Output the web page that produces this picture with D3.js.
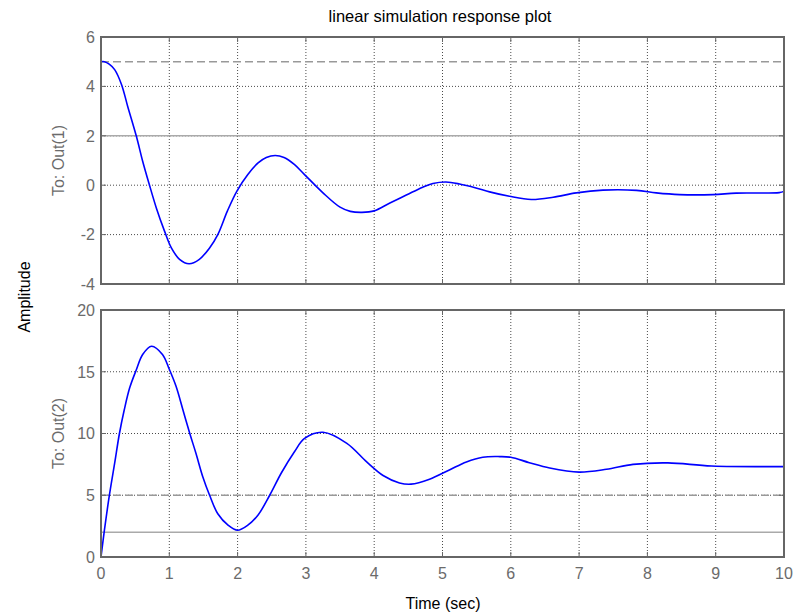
<!DOCTYPE html>
<html>
<head>
<meta charset="utf-8">
<script src="https://cdn.jsdelivr.net/npm/d3@7"></script>
<style>
  html, body { margin: 0; padding: 0; background: #fff; }
  svg { display: block; font-family: "Liberation Sans", Arial, sans-serif; }
</style>
</head>
<body>
<svg id="chart" width="807" height="616"></svg>
<script>
// Output 1 response samples (time in seconds, amplitude)
const time1 = [0, 0.05, 0.12, 0.2, 0.3, 0.39, 0.52, 0.61, 0.71, 0.81, 0.93, 1.03, 1.15, 1.29, 1.44, 1.59, 1.71, 1.85, 1.99, 2.15, 2.3, 2.42, 2.55, 2.68, 2.83, 2.98, 3.25, 3.5, 3.65, 3.82, 4.0, 4.23, 4.47, 4.71, 4.86, 5.05, 5.25, 5.49, 5.69, 5.98, 6.3, 6.62, 6.96, 7.35, 7.84, 8.13, 8.47, 8.96, 9.3, 9.93, 10];
const out1  = [5.0, 5.0, 4.9, 4.68, 4.08, 3.2, 1.96, 0.97, 0.0, -0.92, -1.86, -2.54, -3.0, -3.18, -3.0, -2.54, -2.0, -1.05, -0.24, 0.43, 0.9, 1.12, 1.2, 1.12, 0.84, 0.43, -0.31, -0.89, -1.06, -1.1, -1.04, -0.72, -0.4, -0.08, 0.07, 0.13, 0.05, -0.11, -0.27, -0.45, -0.58, -0.49, -0.31, -0.2, -0.21, -0.31, -0.38, -0.38, -0.32, -0.3, -0.25];

// Output 2 response samples
const time2 = [0, 0.05, 0.12, 0.2, 0.27, 0.34, 0.42, 0.52, 0.61, 0.74, 0.9, 1.0, 1.1, 1.2, 1.3, 1.39, 1.49, 1.59, 1.71, 1.86, 2.0, 2.15, 2.3, 2.47, 2.64, 2.83, 2.98, 3.25, 3.6, 3.89, 4.13, 4.37, 4.54, 4.81, 5.1, 5.35, 5.59, 5.84, 6.0, 6.27, 6.57, 7.0, 7.4, 7.79, 8.3, 8.94, 10];
const out2  = [0, 2.17, 4.9, 7.6, 10.0, 11.9, 13.7, 15.2, 16.4, 17.07, 16.4, 15.2, 13.8, 11.9, 10.0, 8.4, 6.5, 5.0, 3.5, 2.58, 2.17, 2.58, 3.4, 5.0, 6.8, 8.5, 9.6, 10.1, 9.2, 7.7, 6.6, 6.0, 5.9, 6.3, 7.05, 7.7, 8.08, 8.13, 8.08, 7.64, 7.2, 6.87, 7.1, 7.5, 7.62, 7.37, 7.32];

// Input signal levels drawn behind the responses
const inputLevels = [5, 2];

const xTicks = [0, 1, 2, 3, 4, 5, 6, 7, 8, 9, 10];
const yTicks1 = [-4, -2, 0, 2, 4, 6];
const yTicks2 = [0, 5, 10, 15, 20];

const svg = d3.select("#chart");
const left = 101, right = 784;

const x = d3.scaleLinear().domain([0, 10]).range([left, right]);

const panels = [
  { time: time1, out: out1, yDomain: [-4, 6], yTicks: yTicks1, top: 37, bottom: 284, label: "To: Out(1)", showX: false },
  { time: time2, out: out2, yDomain: [0, 20], yTicks: yTicks2, top: 310, bottom: 557, label: "To: Out(2)", showX: true }
];

const gridColor = "#4a4a4a";
const frameColor = "#666";
const tickText = "#6b6b6b";

panels.forEach(p => {
  const y = d3.scaleLinear().domain(p.yDomain).range([p.bottom, p.top]);
  const g = svg.append("g");

  // dotted grid
  g.append("g").selectAll("line").data(xTicks.slice(1, -1)).join("line")
    .attr("x1", d => x(d)).attr("x2", d => x(d))
    .attr("y1", p.top).attr("y2", p.bottom)
    .attr("stroke", gridColor).attr("stroke-width", 1).attr("stroke-dasharray", "1,2");
  g.append("g").selectAll("line").data(p.yTicks.slice(1, -1)).join("line")
    .attr("x1", left).attr("x2", right)
    .attr("y1", d => y(d)).attr("y2", d => y(d))
    .attr("stroke", gridColor).attr("stroke-width", 1).attr("stroke-dasharray", "1,2");

  // input levels
  inputLevels.forEach((lv, i) => {
    if (lv < p.yDomain[0] || lv > p.yDomain[1]) return;
    g.append("line")
      .attr("x1", left).attr("x2", right)
      .attr("y1", y(lv)).attr("y2", y(lv))
      .attr("stroke", i === 0 ? "#999" : "#aaa")
      .attr("stroke-width", i === 0 ? 1.6 : 1.5)
      .attr("stroke-dasharray", i === 0 ? "8,4" : null);
  });

  // response curve
  const line = d3.line().x((d, i) => x(p.time[i])).y(d => y(d)).curve(d3.curveCatmullRom.alpha(0.5));
  g.append("path").datum(p.out)
    .attr("d", line)
    .attr("fill", "none")
    .attr("stroke", "#0000ff")
    .attr("stroke-width", 1.6);

  // inward tick marks on all four sides
  const tl = 5;
  const ticks = g.append("g").attr("stroke", frameColor).attr("stroke-width", 1);
  xTicks.forEach(t => {
    ticks.append("line").attr("x1", x(t)).attr("x2", x(t)).attr("y1", p.bottom).attr("y2", p.bottom - tl);
    ticks.append("line").attr("x1", x(t)).attr("x2", x(t)).attr("y1", p.top).attr("y2", p.top + tl);
  });
  p.yTicks.forEach(t => {
    ticks.append("line").attr("x1", left).attr("x2", left + tl).attr("y1", y(t)).attr("y2", y(t));
    ticks.append("line").attr("x1", right).attr("x2", right - tl).attr("y1", y(t)).attr("y2", y(t));
  });

  // frame
  g.append("rect")
    .attr("x", left).attr("y", p.top)
    .attr("width", right - left).attr("height", p.bottom - p.top)
    .attr("fill", "none").attr("stroke", frameColor).attr("stroke-width", 2);

  // y tick labels
  g.append("g").selectAll("text").data(p.yTicks).join("text")
    .attr("x", left - 6).attr("y", d => y(d)).attr("dy", "0.36em")
    .attr("text-anchor", "end").attr("fill", tickText)
    .attr("font-size", 16).text(d => d);

  if (p.showX) {
    g.append("g").selectAll("text").data(xTicks).join("text")
      .attr("x", d => x(d)).attr("y", p.bottom + 22)
      .attr("text-anchor", "middle").attr("fill", tickText)
      .attr("font-size", 16).text(d => d);
  }

  // row label
  svg.append("text")
    .attr("transform", `translate(64,${(p.top + p.bottom) / 2}) rotate(-90)`)
    .attr("text-anchor", "middle").attr("fill", tickText)
    .attr("font-size", 16).text(p.label);
});

// title and axis labels
svg.append("text").attr("x", 440).attr("y", 22).attr("text-anchor", "middle")
  .attr("fill", "#000").attr("font-size", 16.5).text("linear simulation response plot");
svg.append("text").attr("x", 443).attr("y", 609).attr("text-anchor", "middle")
  .attr("fill", "#000").attr("font-size", 16).text("Time (sec)");
svg.append("text").attr("transform", "translate(30,297) rotate(-90)").attr("text-anchor", "middle")
  .attr("fill", "#000").attr("font-size", 16).text("Amplitude");
</script>
</body>
</html>
